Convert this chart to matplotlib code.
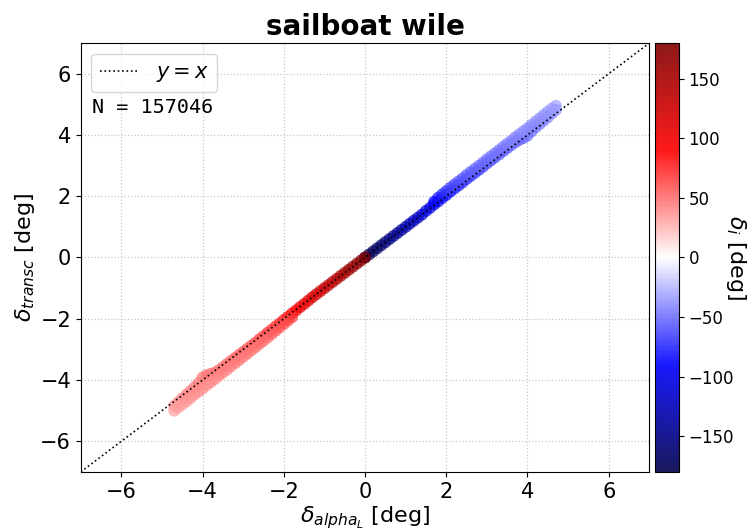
import numpy as np
import matplotlib.pyplot as plt

# Sailboat "wile": transcribed deflection vs. alpha_L deflection, coloured by delta_i
n_samples = 157046

# positive branch (delta_i < 0), main track close to y = x
pos_x = [0.0, 0.1, 0.2, 0.3, 0.4, 0.5, 0.6, 0.7, 0.8, 0.9,
         1.0, 1.1, 1.2, 1.3, 1.4, 1.5, 1.6, 1.7, 1.8, 1.9,
         2.0, 2.1, 2.2, 2.3, 2.4, 2.5, 2.6, 2.7, 2.8, 2.9,
         3.0, 3.1, 3.2, 3.3, 3.4, 3.5, 3.6, 3.7, 3.8, 3.9,
         4.0, 4.1, 4.2, 4.3, 4.4, 4.5, 4.6, 4.7]
pos_y = [0.0, 0.1, 0.2, 0.3, 0.4, 0.5, 0.6, 0.7, 0.8, 0.9,
         1.0, 1.1, 1.2, 1.3, 1.4, 1.52, 1.62, 1.73, 1.83, 1.94,
         2.04, 2.15, 2.25, 2.35, 2.45, 2.56, 2.66, 2.76, 2.86, 2.96,
         3.07, 3.17, 3.27, 3.37, 3.47, 3.57, 3.67, 3.76, 3.84, 3.9,
         3.98, 4.12, 4.25, 4.36, 4.47, 4.58, 4.7, 4.82]
pos_di = [-179, -176, -172, -168, -164, -160, -155, -150, -145, -140,
          -135, -130, -125, -120, -115, -110, -105, -100, -96, -92,
          -88, -85, -82, -79, -77, -75, -73, -71, -69, -67,
          -65, -63, -62, -60, -59, -58, -57, -56, -55, -54,
          -52, -51, -50, -48, -46, -44, -42, -40]

# positive branch, lighter upper track
pos_up_x = [1.7, 1.8, 1.9, 2.0, 2.1, 2.2, 2.3, 2.4, 2.5, 2.6,
            2.7, 2.8, 2.9, 3.0, 3.1, 3.2, 3.3, 3.4, 3.5, 3.6,
            3.7, 3.8, 3.9, 4.0, 4.1, 4.2, 4.3, 4.4, 4.5, 4.6, 4.7]
pos_up_y = [1.82, 1.95, 2.06, 2.17, 2.28, 2.38, 2.48, 2.58, 2.69, 2.79,
            2.89, 2.99, 3.09, 3.2, 3.3, 3.4, 3.5, 3.61, 3.71, 3.81,
            3.92, 4.02, 4.12, 4.22, 4.33, 4.44, 4.54, 4.65, 4.76, 4.86, 4.95]
pos_up_di = [-88, -82, -76, -71, -67, -64, -61, -59, -57, -55,
             -54, -53, -52, -51, -50, -49, -48, -47, -46, -45,
             -44, -43, -42, -42, -41, -40, -39, -38, -37, -36, -35]

# negative branch (delta_i > 0), main track close to y = x
neg_x = [-0.0, -0.1, -0.2, -0.3, -0.4, -0.5, -0.6, -0.7, -0.8, -0.9,
         -1.0, -1.1, -1.2, -1.3, -1.4, -1.5, -1.6, -1.7, -1.8, -1.9,
         -2.0, -2.1, -2.2, -2.3, -2.4, -2.5, -2.6, -2.7, -2.8, -2.9,
         -3.0, -3.1, -3.2, -3.3, -3.4, -3.5, -3.6, -3.7, -3.8, -3.9,
         -4.0, -4.1, -4.2, -4.3, -4.4, -4.5, -4.6, -4.7]
neg_y = [-0.0, -0.1, -0.2, -0.3, -0.4, -0.5, -0.6, -0.7, -0.8, -0.9,
         -1.0, -1.1, -1.2, -1.3, -1.41, -1.52, -1.62, -1.73, -1.83, -1.94,
         -2.04, -2.15, -2.25, -2.36, -2.46, -2.57, -2.67, -2.78, -2.88, -2.98,
         -3.08, -3.18, -3.28, -3.38, -3.48, -3.58, -3.68, -3.76, -3.8, -3.84,
         -3.92, -4.1, -4.24, -4.36, -4.48, -4.6, -4.72, -4.84]
neg_di = [178, 175, 171, 166, 161, 156, 151, 146, 141, 136,
          131, 126, 121, 116, 111, 106, 101, 96, 91, 86,
          82, 78, 75, 72, 70, 68, 66, 64, 62, 60,
          59, 58, 56, 55, 54, 53, 52, 51, 50, 49,
          48, 47, 46, 45, 44, 42, 40, 38]

# negative branch, lighter lower track
neg_lo_x = [-1.8, -1.9, -2.0, -2.1, -2.2, -2.3, -2.4, -2.5, -2.6, -2.7,
            -2.8, -2.9, -3.0, -3.1, -3.2, -3.3, -3.4, -3.5, -3.6, -3.7,
            -3.8, -3.9, -4.0, -4.1, -4.2, -4.3, -4.4, -4.5, -4.6, -4.7]
neg_lo_y = [-1.95, -2.06, -2.17, -2.28, -2.39, -2.5, -2.61, -2.72, -2.82, -2.93,
            -3.03, -3.14, -3.24, -3.35, -3.45, -3.55, -3.66, -3.76, -3.86, -3.97,
            -4.07, -4.17, -4.28, -4.38, -4.48, -4.59, -4.7, -4.8, -4.9, -5.0]
neg_lo_di = [70, 66, 63, 60, 58, 56, 54, 52, 51, 50,
             49, 48, 47, 46, 45, 45, 44, 43, 43, 42,
             42, 41, 40, 40, 39, 38, 37, 36, 35, 34]

line_x = [-7, 7]

x = np.concatenate([pos_x, pos_up_x, neg_x, neg_lo_x])
y = np.concatenate([pos_y, pos_up_y, neg_y, neg_lo_y])
di = np.concatenate([pos_di, pos_up_di, neg_di, neg_lo_di])

fig = plt.figure(figsize=(7.55, 5.32), dpi=100)
ax = fig.add_axes([0.107, 0.113, 0.753, 0.806])
cax = fig.add_axes([0.868, 0.113, 0.031, 0.806])

sc = ax.scatter(x, y, c=di, cmap='seismic', vmin=-180, vmax=180,
                s=75, alpha=0.7, edgecolors='none', zorder=2)
ax.plot(line_x, line_x, ':', color='black', linewidth=1.2, label='$y = x$',
        zorder=3)

ax.set_xlim(-7, 7)
ax.set_ylim(-7, 7)
ax.set_xticks([-6, -4, -2, 0, 2, 4, 6])
ax.set_yticks([-6, -4, -2, 0, 2, 4, 6])
ax.tick_params(labelsize=15)
ax.grid(True, linestyle=':', color='#c8c8c8', linewidth=0.9, zorder=0)
ax.set_axisbelow(True)

ax.set_title('sailboat wile', fontsize=20, fontweight='bold')
ax.set_xlabel(r'$\delta_{alpha_L}$ [deg]', fontsize=16, labelpad=2)
ax.set_ylabel(r'$\delta_{transc}$ [deg]', fontsize=16, labelpad=2)

ax.legend(loc='upper left', fontsize=15, handlelength=1.9)
ax.text(0.02, 0.836, 'N = %d' % n_samples, transform=ax.transAxes,
        fontsize=14.5, family='DejaVu Sans Mono')

cb = fig.colorbar(sc, cax=cax)
cb.solids.set_alpha(0.9)
cb.set_ticks([-150, -100, -50, 0, 50, 100, 150])
cb.ax.tick_params(labelsize=12)
cb.set_label(r'$\delta_i$ [deg]', fontsize=16, rotation=270, labelpad=10)

fig.savefig('out.png', dpi=100)
